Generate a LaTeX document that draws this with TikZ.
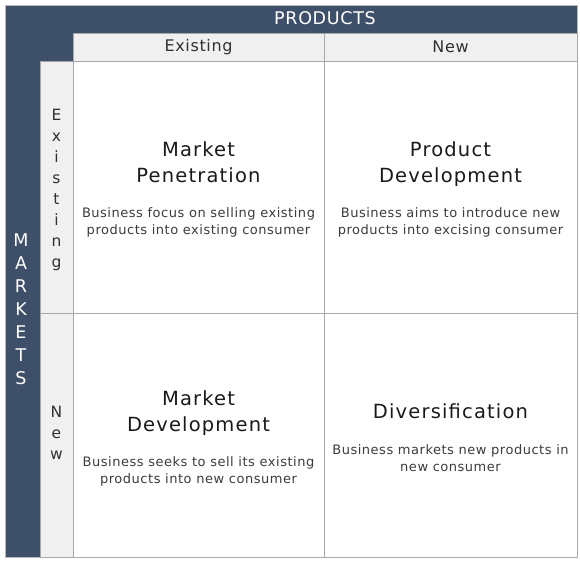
\documentclass[tikz,border=0pt]{standalone}
\usepackage{fontspec}
\setmainfont{DejaVu Sans}
\newfontfamily\ttlfont[LetterSpace=6]{DejaVu Sans}
\newfontfamily\dscfont[LetterSpace=4]{DejaVu Sans}
\newfontfamily\hdrfont[LetterSpace=4]{DejaVu Sans}
\definecolor{navy}{HTML}{3E4F69}
\definecolor{hdr}{HTML}{F0F0F0}
\definecolor{gridc}{HTML}{A8A8A8}
\definecolor{txt}{HTML}{1A1A1A}
\begin{document}
\begin{tikzpicture}[x=1pt,y=-1pt,
  cell/.style={draw=gridc,line width=1pt,fill=white},
  hcell/.style={draw=gridc,line width=1pt,fill=hdr},
  ttl/.style={align=center,text=txt,font=\ttlfont\fontsize{19.5}{26}\selectfont,inner sep=0pt},
  dsc/.style={align=center,text=txt!85!white,font=\dscfont\fontsize{13}{17}\selectfont,inner sep=0pt},
  hdrtxt/.style={text=txt!90!white,font=\hdrfont\fontsize{16}{18}\selectfont,inner sep=0pt},
  wtxt/.style={text=white,font=\hdrfont\fontsize{17.5}{18}\selectfont,inner sep=0pt},
  vtxt/.style={align=center,text=txt!90!white,font=\fontsize{15.5}{21}\selectfont,inner sep=0pt},
  mtxt/.style={align=center,text=white,font=\fontsize{17.5}{23}\selectfont,inner sep=0pt}]
\useasboundingbox (0,0) rectangle (580,562);
\fill[white] (0,0) rectangle (580,562);
% outer frame
\filldraw[fill=navy,draw=gridc!80!white,line width=0.8pt] (5,5) rectangle (577,557);
% header cells
\filldraw[hcell] (73,33) rectangle (324,61);
\filldraw[hcell] (324,33) rectangle (577,61);
\filldraw[hcell] (40,61) rectangle (73,313);
\filldraw[hcell] (40,313) rectangle (73,557);
% main cells
\filldraw[cell] (73,61) rectangle (324,313);
\filldraw[cell] (324,61) rectangle (577,313);
\filldraw[cell] (73,313) rectangle (324,557);
\filldraw[cell] (324,313) rectangle (577,557);
% header texts
\node[wtxt] (products) at (325,18.5) {PRODUCTS};
\node[hdrtxt] (colA) at (198.5,47) {Existing};
\node[hdrtxt] (colB) at (450.5,47) {New};
\node[vtxt,anchor=north] (rowA) at (56.5,109) {E\\x\\i\\s\\t\\i\\n\\g};
\node[vtxt,anchor=north] (rowB) at (56.5,406) {N\\e\\w};
\node[mtxt,anchor=north] (markets) at (21,234) {M\\A\\R\\K\\E\\T\\S};
% cell texts
\node[ttl] (t1) at (198.5,162) {Market\\Penetration};
\node[dsc] (d1) at (198.5,222) {Business focus on selling existing\\products into existing consumer};
\node[ttl] (t2) at (450.5,164) {Product\\Development};
\node[dsc] (d2) at (450.5,222) {Business aims to introduce new\\products into excising consumer};
\node[ttl] (t3) at (198.5,413) {Market\\Development};
\node[dsc] (d3) at (198.5,471.5) {Business seeks to sell its existing\\products into new consumer};
\node[ttl] (t4) at (450.5,411) {Diversification};
\node[dsc] (d4) at (450.5,458) {Business markets new products in\\new consumer};
\end{tikzpicture}
\end{document}
